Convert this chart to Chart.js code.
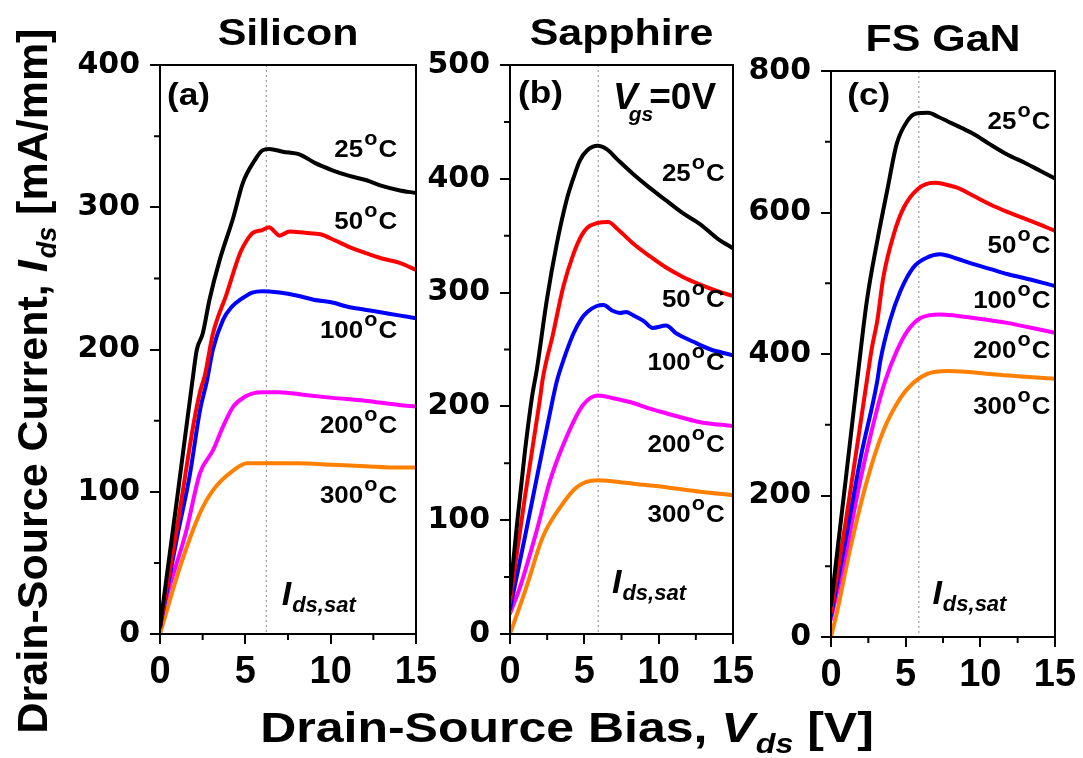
<!DOCTYPE html>
<html>
<head>
<meta charset="utf-8">
<script src="https://cdn.jsdelivr.net/npm/chart.js@4.4.1/dist/chart.umd.min.js"></script>
<style>
  body { margin: 0; background: #fff; }
  #wrap { position: relative; width: 1083px; height: 758px; }
  #wrap canvas { position: absolute; left: 0; top: 0; }
</style>
</head>
<body>
<div id="wrap">
  <canvas id="silicon" width="1083" height="758"></canvas>
  <canvas id="sapphire" width="1083" height="758"></canvas>
  <canvas id="gan" width="1083" height="758"></canvas>
</div>
<script>
const temps = ["25", "50", "100", "200", "300"];
const colors = ["#000000", "#ff0000", "#0000ff", "#ff00ff", "#ff8000"];
const satBias = [6.2, 5.9, 5.85];   // V at the saturation marker, per substrate

// Silicon
const siV25 = [0, 1, 1.9, 2.16, 2.5, 2.9, 3.5, 4.3, 4.85, 5.55, 6.0, 6.4, 7.2, 8.2, 9.1, 10.1, 11.1, 12.1, 13.0, 14.0, 15];
const siI25 = [5, 95, 178, 200, 211, 235, 263, 293, 317, 333, 340, 341, 339, 337, 331, 326, 322, 319, 315, 312, 310];
const siV50 = [0, 1, 2, 2.34, 2.63, 3.1, 3.9, 4.7, 5.1, 5.44, 6.0, 6.4, 6.7, 7.0, 7.6, 8.5, 9.4, 10.2, 11.1, 12.0, 13.0, 14.0, 15];
const siI50 = [5, 75, 150, 170, 182, 211, 239, 268, 277, 282, 284, 286, 283, 280, 283, 282, 281, 277, 272, 268, 264, 261, 256];
const siV100 = [0, 1, 1.75, 2.34, 2.75, 3.1, 3.7, 4.2, 4.7, 5.4, 6.0, 7.0, 8.0, 9.0, 10.1, 11.0, 12.0, 13.0, 14.0, 15];
const siI100 = [5, 68, 112, 157, 178, 200, 221, 230, 235, 240, 241, 240, 238, 235, 233, 230, 228, 226, 224, 222];
const siV200 = [0, 0.2, 1.55, 2.34, 3.1, 3.7, 4.3, 5.0, 5.4, 6.0, 7.0, 8.5, 10.1, 12.0, 14.0, 15];
const siI200 = [5, 17, 73, 113, 129, 146, 160, 167, 169, 170, 170, 168, 166, 164, 161, 160];
const siV300 = [0, 1.17, 2.34, 3.1, 4.3, 5.1, 6.2, 8.0, 10.1, 12.0, 14.0, 15];
const siI300 = [0, 47, 85, 101, 115, 120, 120, 120, 119, 118, 117, 117];

// Sapphire
const saV25 = [0, 0.5, 1, 1.5, 1.8, 2.47, 3.15, 3.8, 4.3, 4.7, 5.2, 5.9, 6.5, 7.3, 8.3, 9.4, 10.5, 11.6, 12.8, 14.0, 15];
const saI25 = [35, 100, 160, 210, 232, 293, 343, 381, 402, 416, 425, 429, 426, 416, 404, 392, 381, 370, 360, 347, 339];
const saV50 = [0, 1, 2, 2.2, 2.9, 3.58, 4.27, 4.8, 5.2, 5.85, 6.6, 7.3, 8.3, 9.4, 10.5, 11.6, 12.8, 14.0, 15];
const saI50 = [28, 120, 205, 224, 264, 305, 334, 350, 357, 361, 362, 355, 343, 332, 322, 314, 307, 301, 297];
const saV100 = [0, 1, 2, 2.7, 3.15, 3.58, 4.27, 4.8, 5.2, 5.8, 6.3, 6.9, 7.4, 7.8, 8.3, 9.0, 9.6, 10.5, 11.2, 12.3, 13.5, 15];
const saI100 = [22, 85, 150, 195, 222, 240, 264, 277, 283, 288, 289, 284, 282, 283, 280, 275, 269, 271, 264, 257, 250, 245];
const saV200 = [0, 0.67, 1.8, 2.7, 3.8, 4.9, 5.9, 7.0, 8.3, 9.4, 10.5, 11.6, 12.8, 14.0, 15];
const saI200 = [18, 41, 91, 135, 173, 201, 209.6, 207, 203, 198, 194, 190, 186, 184, 183];
const saV300 = [0, 1.1, 2.2, 3.36, 4.5, 5.85, 7.0, 8.3, 10.5, 12.8, 15];
const saI300 = [0, 41, 85, 111, 129, 135, 134, 132, 129, 125, 122];

// FS GaN
const gaV25 = [0, 0.5, 1, 1.75, 2.4, 3.1, 3.8, 4.4, 5.1, 5.7, 6.5, 7.2, 7.8, 8.7, 9.55, 10.6, 11.8, 13.0, 14.0, 15];
const gaI25 = [45, 135, 225, 362, 475, 560, 635, 697, 729, 740, 741, 735, 729, 720, 711, 697, 682, 670, 659, 648];
const gaV50 = [0, 1, 2.4, 2.75, 3.1, 3.5, 4.2, 4.85, 5.8, 6.9, 7.6, 8.45, 9.5, 10.7, 11.8, 12.9, 14.0, 15];
const gaI50 = [35, 165, 362, 410, 447, 508, 569, 606, 633, 642, 640, 635, 624, 611, 601, 592, 583, 574];
const gaV100 = [0, 1, 2, 3.1, 3.3, 3.95, 4.65, 5.5, 6.4, 7.3, 8.4, 9.55, 10.7, 11.8, 13.4, 15];
const gaI100 = [30, 140, 255, 362, 390, 447, 489, 522, 536, 541, 535, 527, 520, 513, 505, 496];
const gaV200 = [0, 1, 2, 3, 3.63, 4.4, 5.1, 6.0, 7.3, 8.4, 9.55, 11.8, 13.4, 15];
const gaI200 = [25, 120, 225, 315, 362, 404, 432, 451, 456, 454, 451, 444, 437, 430];
const gaV300 = [0, 0.4, 1.3, 2.4, 3.5, 4.65, 5.5, 6.45, 7.8, 9.0, 11.0, 13.0, 15];
const gaI300 = [0, 35, 126, 220, 291, 338, 359, 372, 376, 375, 371, 368, 365];

const ARIAL = '"Liberation Sans", Arial, sans-serif';
const DEJAVU = '"DejaVu Sans", sans-serif';

// draws a run of text pieces (sub/superscripts via dy), optionally stretched horizontally
function richText(ctx, parts, x, y, align, sx) {
  let w = 0;
  parts.forEach(p => { ctx.font = p.f; p.w = ctx.measureText(p.t).width; w += p.w + (p.dx || 0); });
  ctx.save();
  ctx.translate(x, y);
  ctx.scale(sx || 1, 1);
  let cx = align === "right" ? -w : align === "center" ? -w / 2 : 0;
  ctx.textAlign = "left";
  ctx.textBaseline = "alphabetic";
  ctx.fillStyle = "#000";
  parts.forEach(p => {
    cx += p.dx || 0;
    ctx.font = p.f;
    ctx.fillText(p.t, cx, p.dy || 0);
    cx += p.w;
  });
  ctx.restore();
}

function degLabel(t) {
  return [
    { t: t, f: `bold 24px ${ARIAL}` },
    { t: "o", f: `bold 20px ${ARIAL}`, dy: -12, dx: 1 },
    { t: "C", f: `bold 24px ${ARIAL}`, dx: 1 }
  ];
}

const panelPlugin = {
  id: "panel",
  beforeDatasetsDraw(chart, args, o) {
    const { ctx, chartArea: a, scales } = chart;
    const xs = scales.x.getPixelForValue(o.sat);
    ctx.save();
    ctx.strokeStyle = "#8a8a8a";
    ctx.lineWidth = 1;
    ctx.setLineDash([2, 3]);
    ctx.beginPath();
    ctx.moveTo(xs + 0.5, a.top);
    ctx.lineTo(xs + 0.5, a.bottom);
    ctx.stroke();
    ctx.restore();
  },
  afterDraw(chart, args, o) {
    const { ctx, chartArea: a, scales } = chart;
    const px = v => scales.x.getPixelForValue(v);
    const py = v => scales.y.getPixelForValue(v);
    ctx.save();
    ctx.strokeStyle = "#000";
    ctx.lineWidth = 2;
    ctx.strokeRect(a.left, a.top, a.right - a.left, a.bottom - a.top);
    // minor ticks halfway between the labelled ones
    ctx.beginPath();
    for (let v = 2.5; v < 15; v += 5) {
      ctx.moveTo(px(v), a.bottom);
      ctx.lineTo(px(v), a.bottom + 6);
    }
    for (let v = o.step / 2; v < o.max; v += o.step) {
      ctx.moveTo(a.left, py(v));
      ctx.lineTo(a.left - 6, py(v));
    }
    ctx.stroke();
    ctx.restore();

    richText(ctx, [{ t: o.title, f: `bold 37px ${ARIAL}` }], (a.left + a.right) / 2, a.top - 20, "center", 1.16);
    richText(ctx, [{ t: o.tag, f: `bold 32px ${ARIAL}` }], px(o.tagAt[0]), py(o.tagAt[1]), "left", 1.1);
    o.temps.forEach((t, i) => {
      richText(ctx, degLabel(t), px(o.tempX), py(o.tempY[i]), "right", 1.08);
    });
    richText(ctx, [
      { t: "I", f: `italic bold 34px ${ARIAL}` },
      { t: "ds,sat", f: `italic bold 22px ${ARIAL}`, dy: 7, dx: 1 }
    ], px(o.satAt[0]), py(o.satAt[1]), "left", 1);

    if (o.gate) {
      richText(ctx, [
        { t: "V", f: `italic bold 37px ${ARIAL}` },
        { t: "gs", f: `italic bold 21px ${ARIAL}`, dy: 12, dx: -9 },
        { t: "=0V", f: `bold 37px ${ARIAL}`, dx: -4 }
      ], px(o.gate[0]), py(o.gate[1]), "left", 1);
    }

    if (o.axisTitles) {
      ctx.save();
      ctx.translate(47, 381);
      ctx.rotate(-Math.PI / 2);
      richText(ctx, [
        { t: "Drain-Source Current, ", f: `bold 43px ${ARIAL}` },
        { t: "I", f: `italic bold 43px ${ARIAL}` },
        { t: "ds", f: `italic bold 27px ${ARIAL}`, dy: 9, dx: 2 },
        { t: " [mA/mm]", f: `bold 43px ${ARIAL}` }
      ], 0, 0, "center", 1);
      ctx.restore();
      richText(ctx, [
        { t: "Drain-Source Bias, ", f: `bold 42px ${ARIAL}` },
        { t: "V", f: `italic bold 42px ${ARIAL}` },
        { t: "ds", f: `italic bold 27px ${ARIAL}`, dy: 11, dx: 1 },
        { t: " [V]", f: `bold 42px ${ARIAL}` }
      ], 567, 742, "center", 1.19);
    }
  }
};

function series(vs, is, i) {
  return {
    label: temps[i] + " °C",
    data: vs.map((v, k) => ({ x: v, y: is[k] })),
    borderColor: colors[i],
    borderWidth: 4,
    pointRadius: 0,
    fill: false,
    cubicInterpolationMode: "monotone",
    borderJoinStyle: "round",
    borderCapStyle: "round"
  };
}

// y axis box is 100 px wide and the x axis box 60 px tall, so padding places the plot area
function makePanel(id, sets, yMax, yStep, pad, panel) {
  new Chart(document.getElementById(id), {
    type: "line",
    data: { datasets: sets },
    options: {
      responsive: false,
      animation: false,
      devicePixelRatio: 1,
      layout: { padding: pad },
      plugins: {
        legend: { display: false },
        tooltip: { enabled: false },
        panel: Object.assign({ max: yMax, step: yStep }, panel)
      },
      scales: {
        x: {
          type: "linear",
          min: 0,
          max: 15,
          afterFit: s => { s.height = 60; },
          ticks: {
            stepSize: 5,
            autoSkip: false,
            maxRotation: 0,
            color: "#000",
            padding: 6,
            font: { family: ARIAL, size: 38, weight: "bold" }
          },
          grid: { drawOnChartArea: false, drawTicks: true, tickLength: 10, color: "#000", lineWidth: 2 },
          border: { color: "#000", width: 2 }
        },
        y: {
          type: "linear",
          min: 0,
          max: yMax,
          afterFit: s => { s.width = 100; },
          ticks: {
            stepSize: yStep,
            color: "#000",
            padding: 10,
            font: { family: DEJAVU, size: 30, weight: "bold" }
          },
          grid: { drawOnChartArea: false, drawTicks: true, tickLength: 10, color: "#000", lineWidth: 2 },
          border: { color: "#000", width: 2 }
        }
      }
    },
    plugins: [panelPlugin]
  });
}

makePanel("silicon", [
  series(siV25, siI25, 0), series(siV50, siI50, 1), series(siV100, siI100, 2),
  series(siV200, siI200, 3), series(siV300, siI300, 4)
], 400, 100, { left: 60, right: 667, top: 65, bottom: 64 }, {
  title: "Silicon", tag: "(a)", tagAt: [0.41, 372], sat: satBias[0],
  temps: temps, tempX: 13.9, tempY: [335, 285, 208, 141, 92],
  satAt: [7.13, 20.4], axisTitles: true
});

makePanel("sapphire", [
  series(saV25, saI25, 0), series(saV50, saI50, 1), series(saV100, saI100, 2),
  series(saV200, saI200, 3), series(saV300, saI300, 4)
], 500, 100, { left: 410, right: 350, top: 65, bottom: 64 }, {
  title: "Sapphire", tag: "(b)", tagAt: [0.54, 467], sat: satBias[1],
  temps: temps, tempX: 14.45, tempY: [398, 287, 232, 160, 98],
  satAt: [6.86, 36], gate: [6.93, 461]
});

makePanel("gan", [
  series(gaV25, gaI25, 0), series(gaV50, gaI50, 1), series(gaV100, gaI100, 2),
  series(gaV200, gaI200, 3), series(gaV300, gaI300, 4)
], 800, 200, { left: 731, right: 28, top: 71, bottom: 61 }, {
  title: "FS GaN", tag: "(c)", tagAt: [1.09, 752], sat: satBias[2],
  temps: temps, tempX: 14.7, tempY: [718, 543, 465, 394, 315],
  satAt: [6.79, 46.6]
});
</script>
</body>
</html>
